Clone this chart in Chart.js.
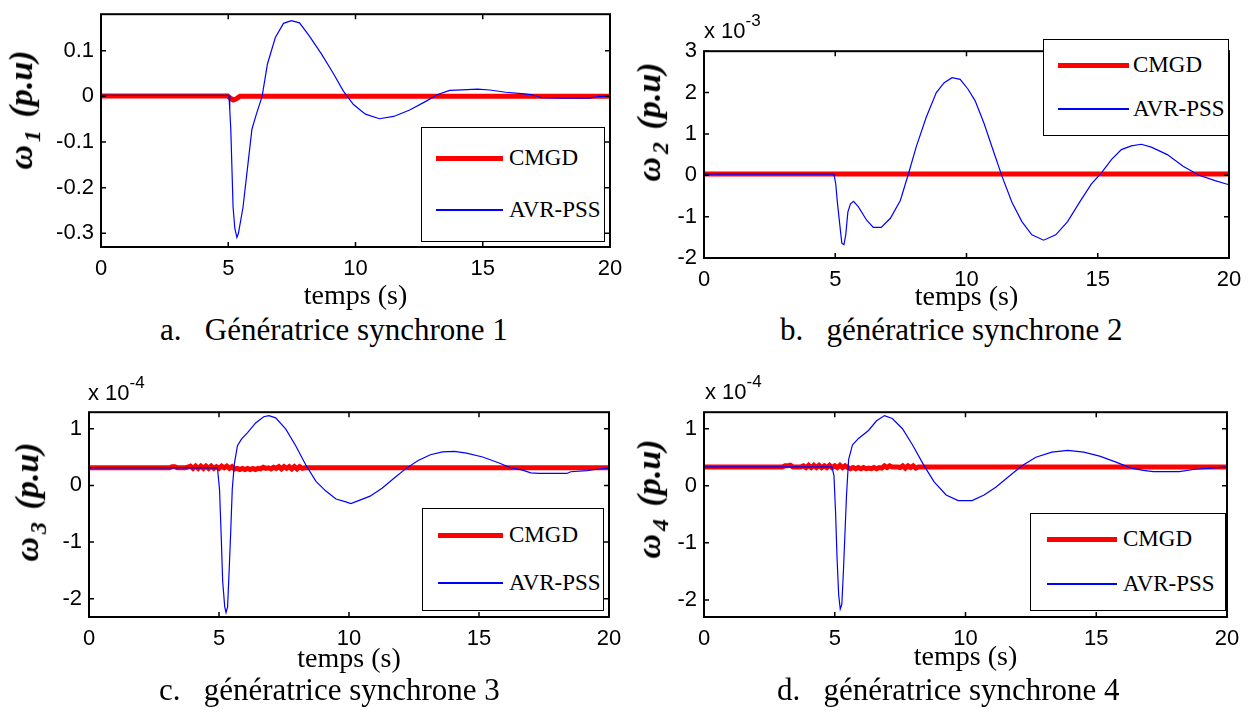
<!DOCTYPE html>
<html>
<head>
<meta charset="utf-8">
<script src="https://cdn.jsdelivr.net/npm/chart.js@4.4.1/dist/chart.umd.min.js"></script>
<style>
  body { margin:0; background:#fff; width:1254px; height:714px; position:relative; overflow:hidden; }
  .plot { position:absolute; }
  .ylab { position:absolute; font-family:"Liberation Serif", serif; font-weight:bold; font-style:italic; font-size:34px; white-space:nowrap; transform:translate(-50%,-50%) rotate(-90deg); }
  .ylab sub { font-size:24px; margin-left:3px; margin-right:4px; }
  .expo { position:absolute; font-family:"Liberation Sans", Arial, sans-serif; font-size:22px; white-space:nowrap; }
  .expo sup { font-size:17px; position:relative; top:-4px; }
  .caption { position:absolute; font-family:"Liberation Serif", serif; font-size:31px; white-space:nowrap; transform:translateY(-50%); }
  .legend { position:absolute; border:1.5px solid #000; background:#fff; box-sizing:border-box; }
  .legend .ln { position:absolute; }
  .legend .tx { position:absolute; font-family:"Liberation Serif", serif; font-size:23px; transform:translateY(-50%); white-space:nowrap; }
</style>
</head>
<body>

<div class="plot" id="wA"><canvas id="cA"></canvas></div>
<div class="plot" id="wB"><canvas id="cB"></canvas></div>
<div class="plot" id="wC"><canvas id="cC"></canvas></div>
<div class="plot" id="wD"><canvas id="cD"></canvas></div>

<div class="ylab" style="left:24px; top:110px;">ω<sub>1</sub> (p.u)</div>
<div class="ylab" style="left:652px; top:122px;">ω<sub>2</sub> (p.u)</div>
<div class="ylab" style="left:30px; top:502px;">ω<sub>3</sub> (p.u)</div>
<div class="ylab" style="left:652px; top:499px;">ω<sub>4</sub> (p.u)</div>

<div class="expo" style="left:704px; top:15px;">x 10<sup>-3</sup></div>
<div class="expo" style="left:88px; top:377px;">x 10<sup>-4</sup></div>
<div class="expo" style="left:705px; top:376px;">x 10<sup>-4</sup></div>

<div class="caption" style="left:160px; top:330px;">a.&nbsp;&nbsp;&nbsp;Génératrice synchrone 1</div>
<div class="caption" style="left:780px; top:330px;">b.&nbsp;&nbsp;&nbsp;génératrice synchrone 2</div>
<div class="caption" style="left:159px; top:690px;">c.&nbsp;&nbsp;&nbsp;génératrice synchrone 3</div>
<div class="caption" style="left:777px; top:690px;">d.&nbsp;&nbsp;&nbsp;génératrice synchrone 4</div>

<script>
// =====================
// DATA
// =====================
const seriesNames = ["CMGD", "AVR-PSS"]
const xTicks = [0, 5, 10, 15, 20]

// a. omega 1 (p.u)
const yTicksA = [0.1, 0, -0.1, -0.2, -0.3]
const tCmgdA = [0, 4.98, 5.08, 5.2, 5.3, 5.46, 20]
const cmgdA  = [0.001, 0.001, -0.004, -0.008, -0.006, 0, 0]
const tAvrA = [0, 5.0, 5.03, 5.06, 5.1, 5.19, 5.26, 5.34, 5.4, 5.58, 5.75, 5.93, 6.1, 6.33, 6.54, 6.85, 7.17, 7.48, 7.8, 8.19, 8.66, 9.13, 9.53, 9.92, 10.39, 10.94, 11.5, 12.13, 12.76, 13.23, 13.7, 14.17, 14.8, 15.28, 15.9, 16.54, 16.9, 17.32, 18.11, 19.2, 19.53, 20]
const avrA  = [0.002, 0.002, 0, -0.03, -0.072, -0.243, -0.29, -0.309, -0.3, -0.243, -0.16, -0.072, -0.04, 0, 0.071, 0.129, 0.16, 0.166, 0.161, 0.132, 0.093, 0.05, 0.011, -0.018, -0.039, -0.049, -0.044, -0.03, -0.011, 0.004, 0.013, 0.014, 0.016, 0.014, 0.009, 0.006, 0.004, -0.003, -0.004, -0.004, 0, 0]

// b. omega 2 (x 1e-3 p.u)
const yTicksB = [3, 2, 1, 0, -1, -2]
const tCmgdB = [0, 20]
const cmgdB  = [0.03, 0.03]
const tAvrB = [0, 4.95, 5.02, 5.08, 5.16, 5.25, 5.33, 5.4, 5.48, 5.58, 5.7, 5.89, 6.19, 6.45, 6.75, 7.1, 7.48, 7.78, 8.09, 8.47, 8.85, 9.15, 9.45, 9.76, 10.06, 10.33, 10.67, 11.05, 11.35, 11.73, 12.11, 12.49, 12.94, 13.4, 13.85, 14.31, 14.76, 15.14, 15.52, 15.9, 16.28, 16.66, 17.04, 17.65, 18.25, 18.86, 19.47, 20]
const avrB  = [0.03, 0.03, -0.21, -0.65, -1.12, -1.64, -1.68, -1.44, -0.89, -0.69, -0.63, -0.77, -1.08, -1.26, -1.26, -1.04, -0.61, 0.02, 0.7, 1.41, 2.0, 2.24, 2.36, 2.32, 2.08, 1.8, 1.25, 0.54, -0.02, -0.65, -1.12, -1.44, -1.57, -1.44, -1.12, -0.65, -0.21, 0.06, 0.38, 0.62, 0.71, 0.75, 0.68, 0.5, 0.22, 0, -0.13, -0.23]

// c. omega 3 (x 1e-4 p.u)
const yTicksC = [1, 0, -1, -2]
const tCmgdC = [0, 3.1, 3.2, 3.3, 3.4, 3.5, 3.6, 3.7, 3.8, 3.9, 4.0, 4.1, 4.2, 4.3, 4.4, 4.5, 4.6, 4.7, 4.8, 4.9, 5.0, 5.1, 5.2, 5.3, 5.4, 5.5, 5.6, 5.7, 5.8, 5.9, 6.0, 6.1, 6.2, 6.3, 6.4, 6.5, 6.6, 6.7, 6.8, 6.9, 7.0, 7.1, 7.2, 7.3, 7.4, 7.5, 7.6, 7.7, 7.8, 7.9, 8.0, 8.1, 8.2, 8.3, 20]
const cmgdC  = [0.31, 0.31, 0.33, 0.33, 0.31, 0.31, 0.31, 0.31, 0.32, 0.34, 0.30, 0.34, 0.30, 0.34, 0.30, 0.34, 0.30, 0.34, 0.30, 0.33, 0.30, 0.34, 0.31, 0.34, 0.30, 0.33, 0.29, 0.30, 0.28, 0.30, 0.28, 0.30, 0.28, 0.30, 0.28, 0.30, 0.29, 0.32, 0.30, 0.31, 0.29, 0.32, 0.30, 0.33, 0.29, 0.33, 0.30, 0.33, 0.29, 0.33, 0.29, 0.33, 0.30, 0.31, 0.31]
const tAvrC = [0, 4.94, 5.02, 5.08, 5.14, 5.22, 5.27, 5.33, 5.39, 5.45, 5.51, 5.59, 5.71, 5.87, 6.1, 6.41, 6.72, 6.92, 7.18, 7.57, 7.95, 8.34, 8.73, 9.11, 9.5, 9.88, 10.07, 10.42, 10.81, 11.27, 11.74, 12.2, 12.66, 13.13, 13.59, 14.05, 14.52, 15.14, 15.75, 16.22, 16.68, 16.99, 17.3, 18.38, 18.53, 19.15, 19.46, 20]
const avrC  = [0.31, 0.31, -0.07, -0.82, -1.68, -2.14, -2.24, -2.14, -1.51, -0.82, -0.07, 0.38, 0.7, 0.82, 0.93, 1.1, 1.21, 1.23, 1.19, 0.99, 0.7, 0.36, 0.07, -0.1, -0.24, -0.29, -0.32, -0.26, -0.19, -0.05, 0.13, 0.3, 0.44, 0.54, 0.59, 0.6, 0.57, 0.5, 0.4, 0.31, 0.27, 0.22, 0.21, 0.21, 0.24, 0.26, 0.28, 0.31]

// d. omega 4 (x 1e-4 p.u)
const yTicksD = [1, 0, -1, -2]
const tCmgdD = [0, 3.0, 3.1, 3.2, 3.3, 3.4, 3.5, 3.6, 3.7, 3.8, 3.9, 4.0, 4.1, 4.2, 4.3, 4.4, 4.5, 4.6, 4.7, 4.8, 4.9, 5.0, 5.1, 5.2, 5.3, 5.4, 5.5, 5.6, 5.7, 5.8, 5.9, 6.0, 6.1, 6.2, 6.3, 6.4, 6.5, 6.6, 6.7, 6.8, 6.9, 7.0, 7.1, 7.2, 7.3, 7.4, 7.5, 7.6, 7.7, 7.8, 7.9, 8.0, 8.1, 8.2, 8.3, 20]
const cmgdD  = [0.33, 0.33, 0.35, 0.35, 0.36, 0.33, 0.33, 0.33, 0.33, 0.35, 0.32, 0.36, 0.32, 0.36, 0.32, 0.36, 0.32, 0.35, 0.32, 0.36, 0.32, 0.35, 0.32, 0.36, 0.32, 0.35, 0.32, 0.30, 0.32, 0.30, 0.32, 0.30, 0.32, 0.30, 0.31, 0.30, 0.32, 0.30, 0.32, 0.31, 0.35, 0.32, 0.35, 0.33, 0.33, 0.33, 0.32, 0.35, 0.31, 0.35, 0.32, 0.35, 0.31, 0.33, 0.33, 0.33]
const tAvrD = [0, 4.89, 4.97, 5.03, 5.09, 5.15, 5.21, 5.27, 5.33, 5.39, 5.45, 5.53, 5.68, 5.91, 6.29, 6.6, 6.9, 7.2, 7.59, 7.97, 8.42, 8.8, 9.26, 9.72, 10.25, 10.71, 11.17, 11.62, 12.16, 12.69, 13.3, 13.91, 14.52, 15.13, 15.73, 16.34, 16.8, 17.18, 18.17, 18.78, 19.39, 20]
const avrD  = [0.33, 0.33, 0.18, -0.45, -1.29, -1.91, -2.16, -2.08, -1.51, -0.84, -0.16, 0.46, 0.72, 0.83, 0.97, 1.14, 1.23, 1.18, 1.0, 0.72, 0.35, 0.07, -0.16, -0.26, -0.26, -0.16, -0.02, 0.15, 0.35, 0.5, 0.59, 0.62, 0.59, 0.52, 0.42, 0.31, 0.27, 0.25, 0.25, 0.29, 0.31, 0.33]

// =====================
// BOX + INWARD TICKS (matlab style)
// =====================
const boxPlugin = {
  id: "box",
  afterDatasetsDraw(chart){
    const {ctx, chartArea:a, scales:{x, y}} = chart
    ctx.save()
    ctx.strokeStyle = "#000"
    ctx.lineWidth = 2
    ctx.strokeRect(a.left, a.top, a.right - a.left, a.bottom - a.top)
    ctx.lineWidth = 1.5
    ctx.beginPath()
    x.ticks.forEach(t => {
      const px = x.getPixelForValue(t.value)
      ctx.moveTo(px, a.bottom); ctx.lineTo(px, a.bottom - 5)
      ctx.moveTo(px, a.top); ctx.lineTo(px, a.top + 5)
    })
    y.ticks.forEach(t => {
      const py = y.getPixelForValue(t.value)
      ctx.moveTo(a.left, py); ctx.lineTo(a.left + 5, py)
      ctx.moveTo(a.right, py); ctx.lineTo(a.right - 5, py)
    })
    ctx.stroke()
    ctx.restore()
  }
}

// =====================
// ONE SUBPLOT
// =====================
const YW = 60, PT = 16, PR = 24

function makePlot(id, box, yMin, yMax, yTicks, tAvr, avr, tCmgd, cmgd, xH){
  const w = box.R - box.L + YW + PR
  const h = box.B - box.T + PT + xH
  const wrap = document.getElementById("w" + id)
  wrap.style.left = (box.L - YW) + "px"
  wrap.style.top = (box.T - PT) + "px"
  const cv = document.getElementById("c" + id)
  cv.width = w; cv.height = h
  cv.style.width = w + "px"; cv.style.height = h + "px"

  new Chart(cv, {
    type: "line",
    data: {
      datasets: [
        { label: seriesNames[1], data: tAvr.map((t, i) => ({x:t, y:avr[i]})), borderColor: "#0000ff", borderWidth: 1.2, pointRadius: 0, tension: 0 },
        { label: seriesNames[0], data: tCmgd.map((t, i) => ({x:t, y:cmgd[i]})), borderColor: "#ff0000", borderWidth: 5, pointRadius: 0, tension: 0 }
      ]
    },
    options: {
      responsive: false,
      animation: false,
      layout: { padding: { left: 0, top: PT, right: PR, bottom: 0 } },
      plugins: { legend: { display: false }, tooltip: { enabled: false } },
      scales: {
        x: {
          type: "linear", min: 0, max: 20,
          afterFit: s => { s.height = xH },
          afterBuildTicks: s => { s.ticks = xTicks.map(v => ({value: v})) },
          grid: { display: false, drawTicks: false },
          border: { display: false },
          ticks: { padding: 9, color: "#000", font: { family: "'Liberation Sans', Arial", size: 22 }, maxRotation: 0 },
          title: { display: true, text: "temps (s)", color: "#000", padding: 0, font: { family: "'Liberation Serif', serif", size: 28, lineHeight: 1 } }
        },
        y: {
          type: "linear", min: yMin, max: yMax,
          afterFit: s => { s.width = YW },
          afterBuildTicks: s => { s.ticks = yTicks.map(v => ({value: v})) },
          grid: { display: false, drawTicks: false },
          border: { display: false },
          ticks: { padding: 7, color: "#000", font: { family: "'Liberation Sans', Arial", size: 22 } }
        }
      }
    },
    plugins: [boxPlugin]
  })
}

makePlot("A", {L:101, T:10, R:610, B:247}, -0.33, 0.18, yTicksA, tAvrA, avrA, tCmgdA, cmgdA, 64)
makePlot("B", {L:704, T:47, R:1229, B:258}, -2, 3, yTicksB, tAvrB, avrB, tCmgdB, cmgdB, 54)
makePlot("C", {L:89, T:408, R:609, B:617}, -2.32, 1.29, yTicksC, tAvrC, avrC, tCmgdC, cmgdC, 57)
makePlot("D", {L:704, T:408, R:1227, B:617}, -2.30, 1.29, yTicksD, tAvrD, avrD, tCmgdD, cmgdD, 55)

// =====================
// LEGENDS (matlab style boxes)
// =====================
function makeLegend(box, lineX1, lineX2, yRed, yBlue, textX){
  const lg = document.createElement("div")
  lg.className = "legend"
  lg.style.left = box.L + "px"; lg.style.top = box.T + "px"
  lg.style.width = (box.R - box.L) + "px"; lg.style.height = (box.B - box.T) + "px"
  const items = [
    { name: seriesNames[0], y: yRed, color: "#ff0000", thick: 5 },
    { name: seriesNames[1], y: yBlue, color: "#0000ff", thick: 1.2 }
  ]
  items.forEach(it => {
    const ln = document.createElement("div")
    ln.className = "ln"
    ln.style.left = (lineX1 - box.L) + "px"
    ln.style.width = (lineX2 - lineX1) + "px"
    ln.style.top = (it.y - box.T - it.thick / 2) + "px"
    ln.style.height = it.thick + "px"
    ln.style.background = it.color
    lg.appendChild(ln)
    const tx = document.createElement("div")
    tx.className = "tx"
    tx.style.left = (textX - box.L) + "px"
    tx.style.top = (it.y - box.T) + "px"
    tx.textContent = it.name
    lg.appendChild(tx)
  })
  document.body.appendChild(lg)
}

makeLegend({L:421, T:127, R:605, B:242}, 435, 502, 157, 209, 508)
makeLegend({L:1043, T:39, R:1229, B:136}, 1057, 1128, 64, 108, 1132)
makeLegend({L:422, T:508, R:604, B:611}, 437, 502, 534, 582, 508)
makeLegend({L:1030, T:513, R:1226, B:611}, 1046, 1116, 538, 583, 1122)
</script>
</body>
</html>
